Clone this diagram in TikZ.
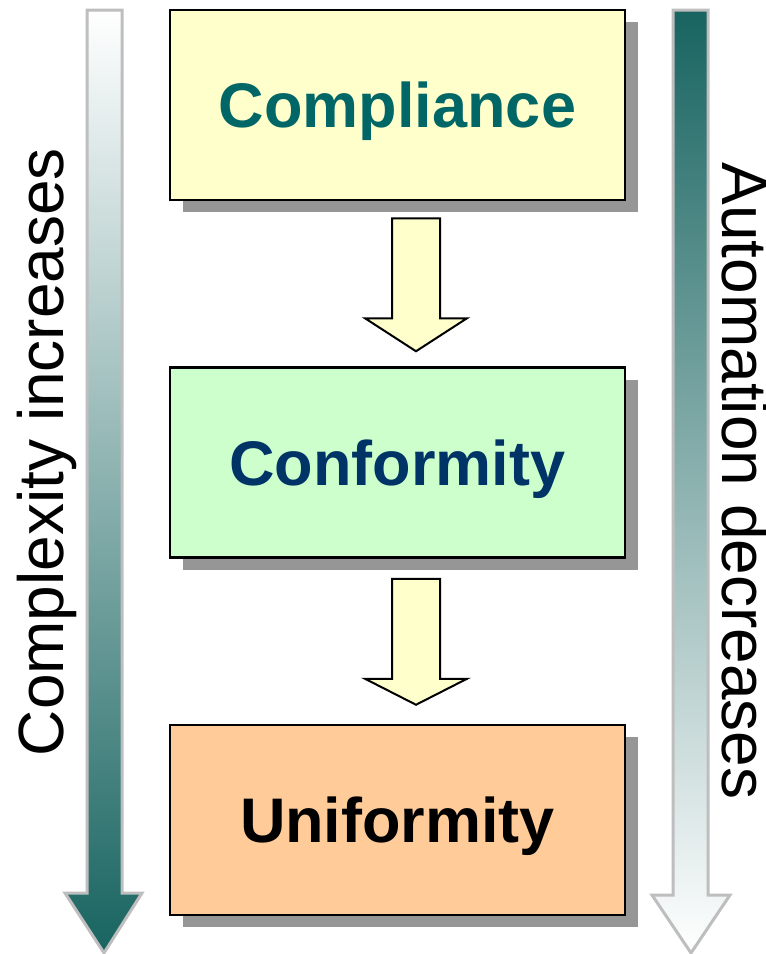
\documentclass[tikz,border=0pt]{standalone}
\usepackage{fontspec}
\setmainfont{Liberation Sans}
\usepackage{tikz}
\usetikzlibrary{calc,shadows,positioning}
\definecolor{boxyellow}{RGB}{255,255,204}
\definecolor{boxgreen}{RGB}{204,255,204}
\definecolor{boxorange}{RGB}{255,204,153}
\definecolor{txtteal}{RGB}{0,102,102}
\definecolor{txtnavy}{RGB}{0,51,102}
\definecolor{shadowgray}{RGB}{150,150,150}
\definecolor{rimgray}{RGB}{190,190,190}
\definecolor{deepteal}{RGB}{24,100,96}
\definecolor{midteal}{RGB}{186,205,204}
\tikzstyle{stagebox}=[rectangle, draw, line width=2.5pt, minimum width=455pt, minimum height=190pt, text height=45pt, text depth=0pt, font=\fontsize{63}{70}\selectfont\bfseries, drop shadow={shadow xshift=13pt,shadow yshift=-12pt,fill=shadowgray,opacity=1}]
\tikzstyle{flowarrow}=[draw, fill=boxyellow, line width=2pt, line join=miter]
\tikzstyle{sidearrow}=[draw=rimgray, line width=3pt, line join=miter]
\tikzstyle{sidetext}=[font=\fontsize{64}{70}\selectfont, anchor=base, inner sep=0pt]

\begin{document}
\begin{tikzpicture}[x=1pt,y=-1pt]
			\useasboundingbox (0,0) rectangle (766,954);

			\draw[sidearrow,top color=white,middle color=midteal,bottom color=deepteal]
				(87,10) -- (122,10) -- (122,893) -- (142,893) -- (104,953) -- (65,893) -- (87,893) -- cycle;
			\draw[sidearrow,top color=deepteal,middle color=midteal,bottom color=white]
				(673,10) -- (708,10) -- (708,895) -- (730,895) -- (691,953) -- (652,895) -- (673,895) -- cycle;

			\node[sidetext,rotate=90] (cplx) at (63,452) {Complexity increases};
			\node[sidetext,rotate=-90] (auto) at (722,481) {Automation decreases};

			\node[stagebox,fill=boxyellow,text=txtteal] (comp) at (397.5,105) {Compliance};
			\node[stagebox,fill=boxgreen,text=txtnavy,below=165pt of comp] (conf) {Conformity};
			\node[stagebox,fill=boxorange,text=black,below=165pt of conf] (unif) {Uniformity};

			\draw[flowarrow]
				($(comp.south)+(-5.5,17)$) -- ++(48,0) -- ++(0,100) -- ++(27,0)
				-- ($(conf.north)+(18.5,-15)$)
				-- ($(comp.south)+(-32.5,117)$) -- ++(27,0) -- cycle;
			\draw[flowarrow]
				($(conf.south)+(-5.5,20)$) -- ++(48,0) -- ++(0,100) -- ++(27,0)
				-- ($(unif.north)+(18.5,-19)$)
				-- ($(conf.south)+(-32.5,120)$) -- ++(27,0) -- cycle;
\end{tikzpicture}
\end{document}
